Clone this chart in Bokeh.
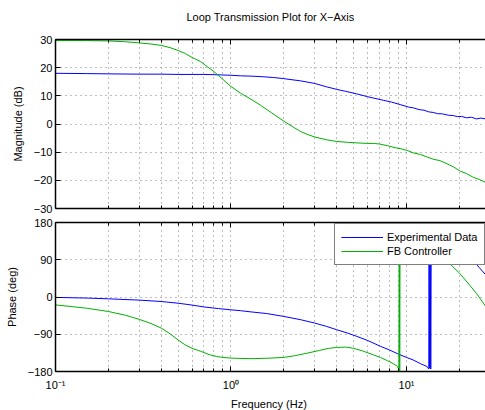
from bokeh.plotting import figure
from bokeh.layouts import column
from bokeh.models import FixedTicker, LogAxis, Range1d, Legend, LegendItem
from bokeh.embed import file_html
from bokeh.resources import INLINE

FONT = "Liberation Sans"
BLUE = "#0000ff"
GREEN = "#00b000"
GRID = "#7a7a7a"
TITLE = "Loop Transmission Plot for X\u2212Axis"

# ---- Frequency axis -------------------------------------------------------
x_start, x_end = 0.1, 28.2
x_major = [0.1, 1, 10]
x_minor = [0.2, 0.3, 0.4, 0.5, 0.6, 0.7, 0.8, 0.9,
           2, 3, 4, 5, 6, 7, 8, 9, 20, 30]
x_labels = {0.1: "10\u207b\u00b9", 1: "10\u2070", 10: "10\u00b9"}

mag_ticks = [-30, -20, -10, 0, 10, 20, 30]
phase_ticks = [-180, -90, 0, 90, 180]

# ---- Magnitude: experimental loop transmission ----------------------------
mag_exp_f = [0.1, 0.15, 0.2, 0.3, 0.4, 0.5, 0.6, 0.7, 0.8, 0.9, 1.0, 1.13,
             1.3, 1.5, 1.75, 2.0, 2.5, 3.0, 3.5, 4.0, 4.5, 5.2, 6.0, 6.6,
             7.4, 8.2, 9.2, 10.3, 11.0, 11.8, 12.6, 13.4, 14.2, 15.0, 16.0,
             17.4, 18.5, 19.5, 20.6, 22.0, 23.5, 25.0, 26.6, 28.2]
mag_exp_db = [18.0, 17.9, 17.8, 17.7, 17.7, 17.6, 17.6, 17.6, 17.5, 17.4,
              17.3, 17.1, 17.0, 16.8, 16.5, 16.1, 15.3, 14.4, 13.2, 12.3,
              11.6, 10.7, 9.7, 9.1, 8.4, 7.8, 6.9, 6.0, 5.7, 5.1, 4.9, 4.3,
              4.1, 3.7, 3.6, 3.1, 3.0, 2.6, 2.7, 2.2, 2.4, 1.8, 2.1, 1.8]

# ---- Magnitude: feedback controller ---------------------------------------
mag_fb_f = [0.1, 0.15, 0.2, 0.25, 0.3, 0.35, 0.4, 0.45, 0.5, 0.55, 0.6,
            0.67, 0.73, 0.8, 0.9, 1.0, 1.13, 1.3, 1.47, 1.7, 2.0, 2.25, 2.5,
            2.75, 3.0, 3.5, 4.0, 4.6, 5.2, 6.0, 6.5, 7.0, 7.8, 8.6, 9.3,
            10.1, 11.0, 12.0, 13.1, 14.2, 15.5, 17.1, 18.5, 20.3, 22.0,
            24.0, 26.0, 28.2]
mag_fb_db = [29.6, 29.6, 29.5, 29.2, 28.8, 28.4, 27.9, 27.1, 26.1, 25.0,
             23.6, 22.2, 20.4, 18.6, 15.8, 13.3, 11.0, 8.8, 6.7, 4.0, 1.0,
             -1.0, -2.7, -3.8, -4.6, -5.6, -6.2, -6.5, -6.7, -6.9, -6.9,
             -7.1, -7.7, -8.4, -8.8, -9.4, -10.3, -10.8, -11.7, -12.5,
             -13.0, -14.2, -15.2, -16.8, -17.6, -18.9, -19.7, -20.7]

# ---- Phase: experimental loop transmission (wrapped to +/-180) ------------
ph_exp_f = [0.1, 0.15, 0.2, 0.3, 0.4, 0.5, 0.6, 0.7, 0.85, 1.0, 1.13, 1.3,
            1.6, 2.0, 2.5, 3.0, 3.5, 4.0, 4.6, 5.2, 6.0, 7.1, 8.0, 9.0,
            10.0, 10.9, 12.0, 13.1, 13.4, 13.45, 13.55, 13.65, 13.75, 13.85,
            14.2, 14.96, 16.0, 18.0, 20.0, 22.0, 24.2, 26.0, 28.2]
ph_exp_deg = [-1, -2.5, -4.4, -7.5, -10.9, -15, -19.5, -24, -28, -31, -33,
              -36, -40, -47, -55, -63, -71, -79, -87, -95, -105, -119, -128,
              -138, -146, -152, -161, -168, -174, 178, -172, 179, -174, 178,
              172, 166, 157, 140, 122, 104, 86, 71, 54]

# ---- Phase: feedback controller (wrapped to +/-180) -----------------------
ph_fb_f = [0.1, 0.15, 0.2, 0.25, 0.3, 0.35, 0.4, 0.45, 0.5, 0.55, 0.6, 0.67,
           0.75, 0.83, 0.95, 1.05, 1.3, 1.6, 2.0, 2.3, 2.7, 3.2, 3.6, 4.0,
           4.5, 5.0, 5.6, 6.5, 7.1, 7.8, 8.4, 8.8, 9.05, 9.1, 9.15, 9.2,
           9.3, 10.5, 12.0, 14.0, 15.6, 17.1, 20.0, 23.0, 25.0, 28.2]
ph_fb_deg = [-19, -27, -35, -44, -54, -64, -75, -89, -104, -116, -124, -131,
             -139, -144, -147, -148, -149, -148, -146, -142, -136, -129,
             -124, -122, -121, -124, -130, -140, -146, -154, -161, -166,
             -174, 179, -178, 178, 176, 164, 147, 124, 106, 86, 58, 28, 9,
             -22]

x_ticker = FixedTicker(ticks=x_major, minor_ticks=x_minor)


def style_x_axis(ax, show_labels):
    ax.ticker = x_ticker
    ax.axis_line_color = "black"
    ax.axis_line_width = 1.5
    ax.major_tick_in = 5
    ax.major_tick_out = 0
    ax.minor_tick_in = 3
    ax.minor_tick_out = 0
    ax.major_tick_line_color = "black"
    ax.minor_tick_line_color = "black"
    ax.major_label_text_font = FONT
    ax.axis_label_text_font = FONT
    ax.axis_label_text_font_size = "11px"
    ax.axis_label_text_font_style = "normal"
    ax.axis_label_text_color = "black"
    if show_labels:
        ax.major_label_overrides = x_labels
        ax.major_label_text_font_size = "11px"
        ax.major_label_text_color = "black"
        ax.major_label_standoff = 7
    else:
        # tick marks only, the labels are kept tiny and transparent
        ax.major_label_text_font_size = "1px"
        ax.major_label_text_alpha = 0
        ax.major_label_standoff = 0


def build(frame_h, y_lo, y_hi, y_ticks, y_label, top_border, bottom_border,
          show_x_labels, top_label=None):
    p = figure(frame_width=430, frame_height=frame_h, x_axis_type="log",
               x_range=Range1d(x_start, x_end), y_range=Range1d(y_lo, y_hi),
               output_backend="svg", toolbar_location=None,
               min_border_left=55, min_border_right=0,
               min_border_top=top_border, min_border_bottom=bottom_border)
    p.outline_line_color = None
    p.background_fill_color = "white"
    p.border_fill_color = "white"

    style_x_axis(p.below[0], show_x_labels)
    top = LogAxis()
    style_x_axis(top, False)
    if top_label:
        # the plot title rides on the upper frequency axis
        top.axis_label = top_label
        top.axis_label_standoff = 17
    p.add_layout(top, "above")

    yt = FixedTicker(ticks=y_ticks)
    ya = p.left[0]
    ya.ticker = yt
    ya.axis_line_color = "black"
    ya.axis_line_width = 1.5
    ya.major_tick_in = 5
    ya.major_tick_out = 0
    ya.minor_tick_line_color = None
    ya.major_tick_line_color = "black"
    ya.major_label_overrides = {v: str(v).replace("-", "\u2212") for v in y_ticks}
    ya.major_label_text_font = FONT
    ya.major_label_text_font_size = "11px"
    ya.major_label_text_color = "black"
    ya.major_label_standoff = 3
    ya.axis_label = y_label
    ya.axis_label_text_font = FONT
    ya.axis_label_text_font_size = "11px"
    ya.axis_label_text_font_style = "normal"
    ya.axis_label_text_color = "black"
    ya.axis_label_standoff = 7

    # dotted grid at every major and minor tick
    for g, tk in ((p.xgrid, x_ticker), (p.ygrid, yt)):
        g.ticker = tk
        g.grid_line_color = GRID
        g.grid_line_dash = "1 4"
        g.grid_line_width = 1
    p.xgrid.minor_grid_line_color = GRID
    p.xgrid.minor_grid_line_dash = "1 4"
    return p


p1 = build(169, -30, 30, mag_ticks, "Magnitude (dB)", 39, 7, False,
           top_label=TITLE)

p1.line(mag_exp_f, mag_exp_db, line_color=BLUE, line_width=1)
p1.line(mag_fb_f, mag_fb_db, line_color=GREEN, line_width=1)

p2 = build(149, -180, 180, phase_ticks, "Phase (deg)", 7, 40, True)
p2.below[0].axis_label = "Frequency  (Hz)"
p2.below[0].axis_label_standoff = 4

r_exp = p2.line(ph_exp_f, ph_exp_deg, line_color=BLUE, line_width=1)
r_fb = p2.line(ph_fb_f, ph_fb_deg, line_color=GREEN, line_width=1)

legend = Legend(items=[LegendItem(label="Experimental Data", renderers=[r_exp]),
                       LegendItem(label="FB Controller", renderers=[r_fb])],
                location=(279, 106))
legend.border_line_color = "black"
legend.border_line_width = 1
legend.background_fill_color = "white"
legend.background_fill_alpha = 1
legend.padding = 6
legend.spacing = 0
legend.margin = 0
legend.label_height = 14
legend.glyph_height = 14
legend.glyph_width = 42
legend.label_standoff = 4
legend.label_text_font = FONT
legend.label_text_font_size = "11px"
legend.label_text_color = "black"
p2.add_layout(legend)

layout = column(p1, p2, spacing=0)
open("out.html", "w").write(file_html(layout, INLINE))
